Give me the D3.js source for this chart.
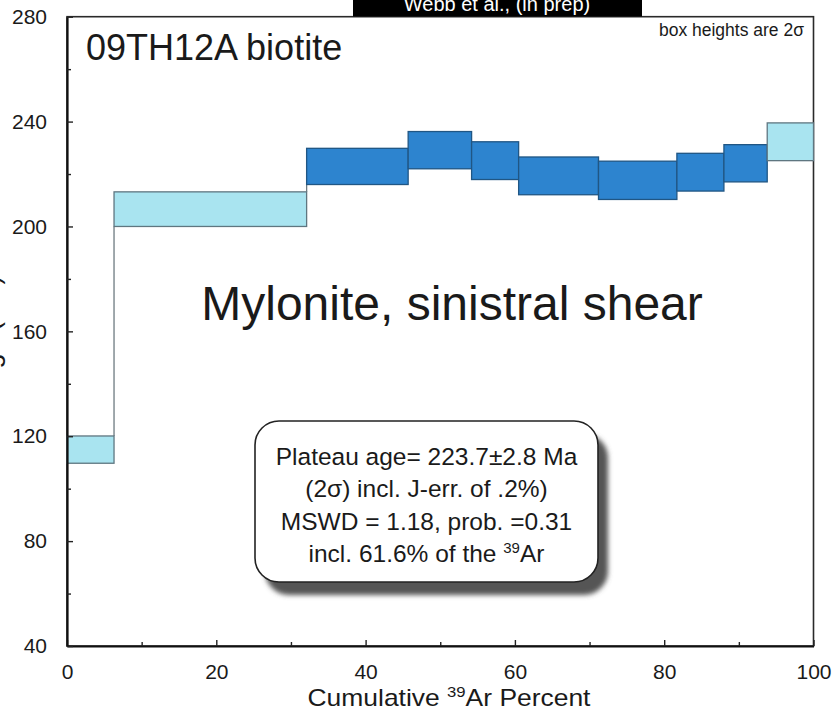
<!DOCTYPE html>
<html>
<head>
<meta charset="utf-8">
<script src="https://cdn.jsdelivr.net/npm/d3@7"></script>
<style>
  html, body { margin: 0; padding: 0; background: #fff; }
  svg { display: block; }
  text { font-family: "Liberation Sans", Arial, Helvetica, sans-serif; fill: #1a1a1a; }
</style>
</head>
<body>
<svg id="chart" width="834" height="713"></svg>
<script>
// Step-heating spectrum for sample 09TH12A biotite
// Cumulative 39Ar boundaries (%) for each heating step
const cumulative39Ar = [0, 6.3, 32.1, 45.7, 54.2, 60.5, 71.2, 81.7, 88.0, 93.8, 100];
// Apparent age of each step (Ma)
const stepAges = [114.9, 206.6, 222.9, 229.1, 225.1, 219.3, 217.6, 220.7, 224.1, 232.3];
// 2-sigma half-height of each step box (Ma)
const stepErrors2s = [5.2, 6.6, 6.9, 7.1, 7.2, 7.2, 7.3, 7.2, 7.1, 7.2];
// Steps included in the plateau
const inPlateau = [false, false, true, true, true, true, true, true, true, false];

// Axis ticks
const xMajorTicks = [0, 20, 40, 60, 80, 100];
const xMinorTicks = [10, 30, 50, 70, 90];
const yMajorTicks = [40, 80, 120, 160, 200, 240, 280];
const yMinorTicks = [60, 100, 140, 180, 220, 260];

// Annotation text
const sampleTitle = "09TH12A biotite";
const boxNote = "box heights are 2\u03C3";
const shearNote = "Mylonite, sinistral shear";
const creditNote = "Webb et al., (in prep)";
const plateauLines = [
  "Plateau age= 223.7\u00B12.8 Ma",
  "(2\u03C3) incl. J-err. of .2%)",
  "MSWD = 1.18, prob. =0.31"
];
const plateauLastLine = ["incl. 61.6% of the ", "39", "Ar"];
const yAxisTitle = "Age (Ma)";
const xAxisTitle = ["Cumulative ", "39", "Ar Percent"];

const svg = d3.select("#chart");
const W = 834, H = 713;
const ink = "#1a1a1a";

const x = d3.scaleLinear().domain([0, 100]).range([67, 813.5]);
const y = d3.scaleLinear().domain([40, 280]).range([646, 16.7]);

const defs = svg.append("defs");
const blur = defs.append("filter").attr("id", "shadowBlur")
  .attr("x", "-10%").attr("y", "-10%").attr("width", "130%").attr("height", "130%");
blur.append("feGaussianBlur").attr("stdDeviation", 2.5);

svg.append("rect").attr("width", W).attr("height", H).attr("fill", "#fff");

// Plot frame (top and right edges)
svg.append("rect")
  .attr("x", x(0)).attr("y", y(280))
  .attr("width", x(100) - x(0)).attr("height", y(40) - y(280))
  .attr("fill", "none").attr("stroke", "#2a2a2a").attr("stroke-width", 1.6);

// Step boxes
const steps = stepAges.map((a, i) => ({
  x0: cumulative39Ar[i], x1: cumulative39Ar[i + 1],
  lo: a - stepErrors2s[i], hi: a + stepErrors2s[i], plateau: inPlateau[i]
}));

// Vertical connectors between non-overlapping neighbouring boxes
const connectors = [];
for (let i = 0; i < steps.length - 1; i++) {
  const a = steps[i], b = steps[i + 1];
  if (a.hi < b.lo) connectors.push({ xv: a.x1, y0: a.hi, y1: b.lo });
  else if (b.hi < a.lo) connectors.push({ xv: a.x1, y0: b.hi, y1: a.lo });
}
svg.append("g").selectAll("line").data(connectors).join("line")
  .attr("x1", d => x(d.xv)).attr("x2", d => x(d.xv))
  .attr("y1", d => y(d.y0)).attr("y2", d => y(d.y1))
  .attr("stroke", "#6d7a80").attr("stroke-width", 1.3);

svg.append("g").selectAll("rect").data(steps).join("rect")
  .attr("x", d => x(d.x0)).attr("width", d => x(d.x1) - x(d.x0))
  .attr("y", d => y(d.hi)).attr("height", d => y(d.lo) - y(d.hi))
  .attr("fill", d => d.plateau ? "#2d84cf" : "#a9e4f0")
  .attr("stroke", d => d.plateau ? "#205684" : "#5f7680")
  .attr("stroke-width", 1.3);

// Axes
svg.append("g").attr("transform", `translate(0,${y(40)})`)
  .call(d3.axisBottom(x).tickValues(xMajorTicks).tickSizeInner(-6).tickSizeOuter(0)
    .tickPadding(18).tickFormat(d3.format("d")));
svg.append("g").attr("transform", `translate(0,${y(40)})`)
  .call(d3.axisBottom(x).tickValues(xMinorTicks).tickSizeInner(-4).tickSizeOuter(0)
    .tickFormat(""))
  .select(".domain").remove();

svg.append("g").attr("transform", `translate(${x(0)},0)`)
  .call(d3.axisLeft(y).tickValues(yMajorTicks).tickSizeInner(-6).tickSizeOuter(0)
    .tickPadding(20).tickFormat(d3.format("d")));
svg.append("g").attr("transform", `translate(${x(0)},0)`)
  .call(d3.axisLeft(y).tickValues(yMinorTicks).tickSizeInner(-4).tickSizeOuter(0)
    .tickFormat(""))
  .select(".domain").remove();

svg.selectAll(".domain").attr("stroke", "#111").attr("stroke-width", 2.2);
svg.selectAll(".tick line").attr("stroke", "#222").attr("stroke-width", 1.4);
svg.selectAll(".tick text")
  .attr("font-family", "'Liberation Sans', Arial, sans-serif")
  .attr("font-size", 21).style("fill", ink);

// Axis titles (x title is drawn slightly widened)
const xTitle = svg.append("text")
  .attr("transform", "translate(449,706) scale(1.15,1)")
  .attr("text-anchor", "middle").attr("font-size", 23).style("fill", ink);
xTitle.append("tspan").text(xAxisTitle[0]);
xTitle.append("tspan").attr("font-size", 14.5).attr("dy", -9).text(xAxisTitle[1]);
xTitle.append("tspan").attr("dy", 9).text(xAxisTitle[2]);

svg.append("text")
  .attr("transform", "translate(-1.5,331) rotate(-90)")
  .attr("text-anchor", "middle").attr("font-size", 27).style("fill", ink)
  .text(yAxisTitle);

// Titles and notes
svg.append("text").attr("x", 86).attr("y", 60)
  .attr("font-size", 36).style("fill", ink).text(sampleTitle);

svg.append("text").attr("x", 804).attr("y", 36).attr("text-anchor", "end")
  .attr("font-size", 17.5).style("fill", ink).text(boxNote);

svg.append("text").attr("x", 452).attr("y", 320).attr("text-anchor", "middle")
  .attr("font-size", 48).style("fill", ink).text(shearNote);

// Plateau statistics box
const bx = 255, by = 421, bw = 343, bh = 161, br = 24;
svg.append("rect")
  .attr("x", bx + 10).attr("y", by + 13).attr("width", bw).attr("height", bh)
  .attr("rx", br).attr("fill", "#555").attr("filter", "url(#shadowBlur)");
svg.append("rect")
  .attr("x", bx).attr("y", by).attr("width", bw).attr("height", bh)
  .attr("rx", br).attr("fill", "#fff").attr("stroke", "#222").attr("stroke-width", 1.6);

const cx = bx + bw / 2;
const baselines = [465, 497, 530, 562];
plateauLines.forEach((t, i) => {
  svg.append("text").attr("x", cx).attr("y", baselines[i])
    .attr("text-anchor", "middle").attr("font-size", 24.5).style("fill", ink).text(t);
});
const last = svg.append("text").attr("x", cx).attr("y", baselines[3])
  .attr("text-anchor", "middle").attr("font-size", 24.5).style("fill", ink);
last.append("tspan").text(plateauLastLine[0]);
last.append("tspan").attr("font-size", 15).attr("dy", -9).text(plateauLastLine[1]);
last.append("tspan").attr("dy", 9).text(plateauLastLine[2]);

// Credit banner across the top
svg.append("rect").attr("x", 353).attr("y", 0).attr("width", 289).attr("height", 16.5)
  .attr("fill", "#000");
svg.append("text").attr("x", 497).attr("y", 10.5).attr("text-anchor", "middle")
  .attr("font-size", 20).style("fill", "#fff").text(creditNote);
</script>
</body>
</html>
